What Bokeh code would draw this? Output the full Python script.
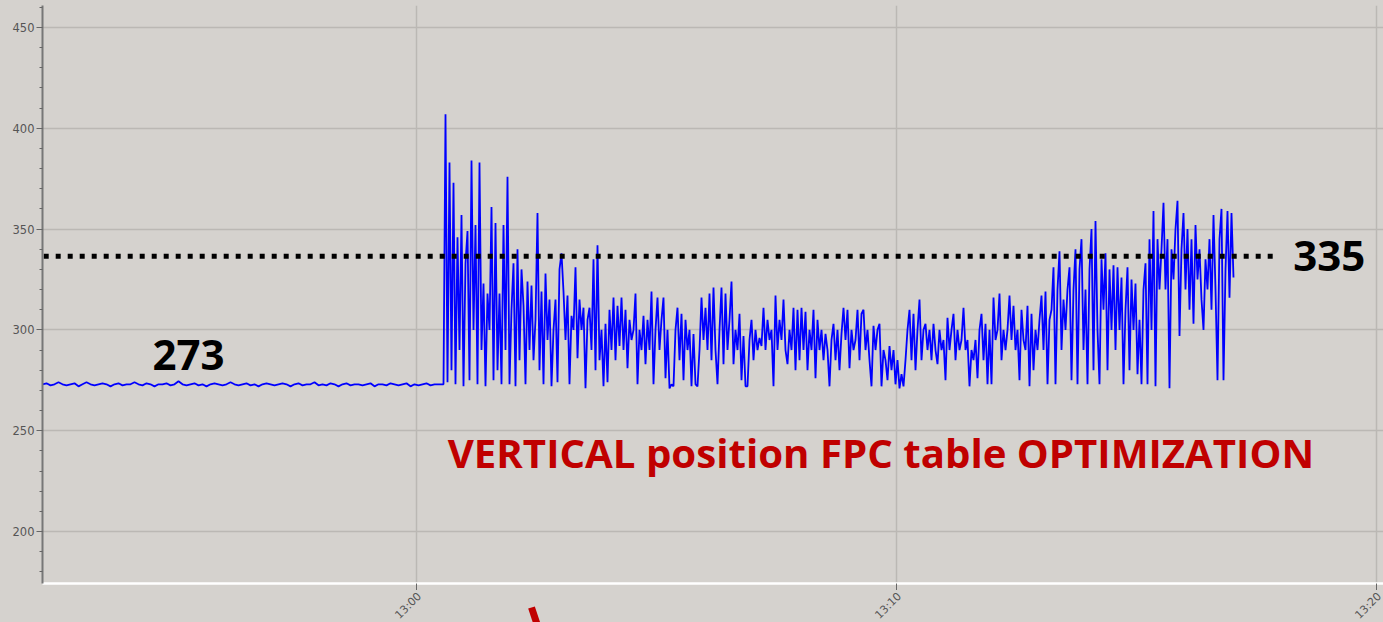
import numpy as np
import pandas as pd
from bokeh.plotting import figure
from bokeh.layouts import column
from bokeh.models import Label, Range1d, FixedTicker, SingleIntervalTicker, DatetimeTickFormatter, ColumnDataSource
from bokeh.embed import file_html
from bokeh.resources import INLINE
from bokeh.core.properties import value

# ---------------- data ----------------
day = "2018-06-01"
ref_time = "13:00:00"

# flat part before the optimisation (seconds relative to 13:00)
base_start_s = -467.5
base_step_s = 5.0
baseline_values = [
    273, 273.5, 272.5, 273, 274, 273, 272.5, 273, 273.5, 272,
    273, 274, 273, 272.5, 273, 273.5, 273, 272, 273, 273.5,
    272.5, 273, 273, 274, 273, 272.5, 273.5, 273, 272, 273,
    273, 273.5, 272.5, 273, 274.5, 273, 272.5, 273, 273.5, 272.5,
    273, 272, 273, 273.5, 273, 272.5, 273, 274, 273, 272.5,
    273, 273.5, 272.5, 273, 272, 273, 273.5, 273, 272.5, 273,
    273.5, 273, 272, 273, 273.5, 272.5, 273, 273, 274, 272.5,
    273, 272.5, 273.5, 273, 272, 273, 273.5, 272.5, 273, 273,
    272.5, 273, 273.5, 272, 273, 273, 272.5, 273.5, 273, 272.5,
    273, 273.5, 272, 273, 272.5, 273, 273.5, 272.5, 273, 273,
]

# optimisation part
opt_start_s = 33.75
opt_step_s = 2.5
opt_values = [
    273, 407, 274, 383, 280, 373, 273, 346, 290, 357, 272, 333, 349, 275, 384, 300, 352, 273, 383, 290,
    323, 272, 318, 300, 361, 275, 353, 280, 318, 273, 352, 290, 376, 273, 310, 333, 272, 340, 285, 330,
    312, 273, 324, 290, 322, 285, 305, 358, 280, 319, 273, 328, 295, 315, 272, 300, 315, 274, 330, 338,
    319, 295, 317, 273, 307, 300, 331, 286, 315, 300, 311, 271, 305, 311, 290, 335, 280, 342, 285, 300,
    272, 303, 274, 310, 290, 316, 285, 312, 292, 316, 290, 310, 281, 305, 295, 300, 318, 273, 300, 290,
    307, 283, 305, 290, 319, 273, 300, 316, 290, 305, 316, 276, 300, 271, 273, 272, 300, 311, 285, 308,
    275, 305, 290, 300, 272, 298, 273, 272, 290, 316, 295, 311, 290, 318, 285, 321, 290, 273, 300, 321,
    283, 318, 290, 305, 324, 283, 300, 290, 308, 275, 297, 272, 272, 295, 305, 285, 300, 290, 296, 292,
    311, 290, 305, 295, 300, 272, 317, 290, 305, 295, 315, 290, 283, 300, 290, 311, 280, 310, 285, 311,
    290, 309, 280, 300, 290, 310, 276, 305, 290, 300, 285, 298, 290, 272, 295, 303, 285, 300, 280, 298,
    311, 295, 310, 281, 300, 290, 295, 310, 285, 308, 310, 290, 300, 285, 272, 302, 290, 300, 303, 272,
    290, 285, 275, 292, 280, 290, 273, 285, 271, 278, 272, 285, 300, 310, 285, 308, 280, 300, 315, 285,
    300, 303, 290, 300, 285, 303, 290, 283, 300, 290, 295, 275, 306, 290, 300, 308, 285, 300, 290, 295,
    311, 290, 295, 272, 290, 285, 295, 276, 300, 308, 285, 303, 273, 300, 273, 316, 295, 300, 318, 285,
    300, 290, 300, 317, 295, 312, 290, 300, 275, 310, 295, 290, 312, 272, 308, 280, 300, 290, 305, 317,
    290, 319, 273, 305, 310, 331, 273, 320, 339, 290, 315, 300, 320, 331, 275, 320, 340, 273, 330, 345,
    290, 320, 273, 330, 350, 280, 354, 300, 273, 335, 310, 338, 280, 330, 300, 332, 290, 331, 300, 326,
    273, 310, 331, 280, 325, 300, 323, 278, 305, 273, 320, 333, 273, 345, 300, 359, 272, 345, 320, 340,
    363, 320, 345, 271, 340, 325, 350, 364, 297, 340, 358, 320, 350, 310, 345, 303, 352, 325, 340, 315,
    300, 335, 320, 345, 310, 357, 320, 275, 345, 360, 275, 330, 359, 316, 358, 326,
]

x_tick_labels = ["13:00", "13:10", "13:20"]
x_view = ("12:52:12.5", "13:20:08.75")
y_view = (174.2, 460.9)
y_tick_step = 50

ref_level = 336.5
ref_line_times = ["12:52:14", "13:17:54"]
ref_label = "335"
base_label = "273"
base_label_pos = ("12:54:30", 287.4)
ref_label_time = "13:18:16"
note_text = "VERTICAL position FPC table OPTIMIZATION"
note_pos = ("13:00:39", 239.2)
# red pointer stroke below the time axis (time, height in px above page bottom)
marker_times = ["13:02:23.75", "13:02:31.25"]
marker_heights = [15, -3]

# ---------------- build ----------------
t0 = pd.Timestamp(f"{day} {ref_time}")
def T(hms):
    return pd.Timestamp(f"{day} {hms}")

base_t = t0 + pd.to_timedelta(base_start_s + base_step_s * np.arange(len(baseline_values)), unit="s")
opt_t = t0 + pd.to_timedelta(opt_start_s + opt_step_s * np.arange(len(opt_values)), unit="s")
times = np.concatenate([base_t.values, opt_t.values])
vals = np.array(baseline_values + opt_values, dtype=float)

BG = "#d5d2ce"
W = 1383
MAIN_H = 590
BOT_H = 622 - MAIN_H
LEFT = 42

xr = Range1d(T(x_view[0]), T(x_view[1]))
p = figure(width=W, height=MAIN_H, output_backend="svg", toolbar_location=None,
           x_axis_type="datetime", x_range=xr, y_range=Range1d(*y_view),
           min_border_left=LEFT, min_border_right=0, min_border_top=5, min_border_bottom=0)
p.background_fill_color = BG
p.border_fill_color = BG
p.outline_line_color = None

# grid
p.xgrid.grid_line_color = "#bbb8b4"
p.ygrid.grid_line_color = "#bbb8b4"
p.xgrid.grid_line_width = 1.5
p.ygrid.grid_line_width = 1.5

# y axis
p.yaxis.ticker = SingleIntervalTicker(interval=y_tick_step, num_minor_ticks=5)
p.yaxis.axis_line_color = "#777777"
p.yaxis.axis_line_width = 2
p.yaxis.major_tick_line_color = "#666666"
p.yaxis.minor_tick_line_color = "#666666"
p.yaxis.major_tick_out = 6
p.yaxis.major_tick_in = 0
p.yaxis.minor_tick_out = 3
p.yaxis.minor_tick_in = 0
p.yaxis.major_label_text_font = "DejaVu Sans"
p.yaxis.major_label_text_font_size = "11.5px"
p.yaxis.major_label_text_color = "#555555"
p.yaxis.major_label_standoff = 2

# x axis (ticks only; labels drawn in strip below)
tick_ms = [T(t + ":00").value / 1e6 for t in x_tick_labels]
p.xaxis.ticker = FixedTicker(ticks=tick_ms)
p.xaxis.formatter = DatetimeTickFormatter(minutes="%H:%M", hourmin="%H:%M", hours="%H:%M",
                                          minsec="%H:%M", context=None)
p.xaxis.major_label_overrides = {t: "" for t in tick_ms}
p.xaxis.major_label_text_font_size = "0px"
p.xaxis.major_label_standoff = 0
p.xaxis.axis_line_color = "#ffffff"
p.xaxis.axis_line_width = 2.5
p.xaxis.major_tick_line_color = "#666666"
p.xaxis.major_tick_out = 7
p.xaxis.major_tick_in = 0
p.xaxis.minor_tick_line_color = None

# data
p.line(times, vals, line_color="#0000ff", line_width=1.8)

# reference dotted line
p.line([T(ref_line_times[0]), T(ref_line_times[1])], [ref_level, ref_level],
       line_color="black", line_width=5, line_dash="5 7")

p.add_layout(Label(x=T(base_label_pos[0]), y=base_label_pos[1], text=base_label,
                   text_font="Open Sans", text_font_style="bold", text_font_size="42px",
                   text_color="black", text_baseline="middle", text_align="left"))
p.add_layout(Label(x=T(ref_label_time), y=ref_level, text=ref_label,
                   text_font="Open Sans", text_font_style="bold", text_font_size="42px",
                   text_color="black", text_baseline="middle", text_align="left"))
p.add_layout(Label(x=T(note_pos[0]), y=note_pos[1], text=note_text,
                   text_font="Open Sans", text_font_style="bold", text_font_size="40.2px",
                   text_color="#c00000", text_baseline="middle", text_align="left"))

# bottom strip: rotated time labels + red pointer (shares the time range)
pb = figure(width=W, height=BOT_H, output_backend="svg", toolbar_location=None,
            x_axis_type=None, y_axis_type=None, x_range=xr, y_range=Range1d(0, BOT_H),
            min_border_left=LEFT, min_border_right=0, min_border_top=0, min_border_bottom=0)
pb.background_fill_color = BG
pb.border_fill_color = BG
pb.outline_line_color = None
pb.xgrid.visible = False
pb.ygrid.visible = False

src = ColumnDataSource(dict(x=[T(t + ":00") for t in x_tick_labels], y=[BOT_H - 4] * len(x_tick_labels),
                            text=x_tick_labels))
pb.text(x="x", y="y", text="text", source=src, angle=np.pi / 4, x_offset=3,
        text_align="right", text_baseline="middle", text_font=value("DejaVu Sans"),
        text_font_size="11px", text_color="#555555")
pb.line([T(t) for t in marker_times], marker_heights, line_color="#c00000", line_width=7)

layout = column(p, pb, spacing=0)
html = file_html(layout, INLINE)
html = html.replace("</head>", f"<style>html, body {{ background: {BG}; }}</style></head>", 1)
open("out.html", "w").write(html)
